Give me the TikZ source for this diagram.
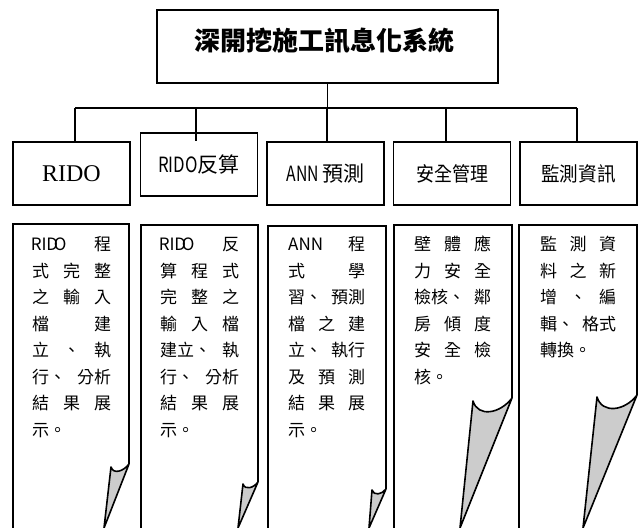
\documentclass[tikz,border=0pt]{standalone}
\usepackage{fontspec}
\usepackage{graphicx}
\setmainfont{Liberation Serif}
\newfontfamily\cjk{Noto Sans CJK TC}
\newcommand\hw[1]{\makebox[8pt]{#1}}
\begin{document}
\begin{tikzpicture}[x=1pt,y=-1pt,
  box/.style={draw, line width=1.5pt, minimum width=117pt, minimum height=63pt, inner sep=0pt},
  conn/.style={line width=1.6pt},
  body/.style={line width=1.8pt, line join=miter},
  tailfill/.style={fill=black!20, draw, line width=1.6pt, line join=round},
  cl/.style={anchor=base west, inner sep=0pt, font=\cjk\fontsize{17pt}{17pt}\selectfont},
  lab/.style={font=\cjk\fontsize{20pt}{20pt}\selectfont}]
\useasboundingbox (0,0) rectangle (642,527);
\clip (0,0) rectangle (642,527);
\fill[white] (0,0) rectangle (642,527);

% title
\node[draw, line width=1.5pt, minimum width=341pt, minimum height=73pt, inner sep=0pt] (top) at (327.5,46.5) {};
\node[font=\cjk\bfseries\fontsize{26pt}{26pt}\selectfont, inner sep=0pt] (toptext) at (324,41) {深開挖施工訊息化系統};

% second row boxes
\node[box, font=\fontsize{24pt}{24pt}\selectfont] (b1) at (71.5,173.5) {RIDO};
\node[box, lab] (b2) at (199,164.5) {\fontsize{21pt}{21pt}\selectfont\scalebox{0.8}[1]{RIDO}反算};
\node[box, lab] (b3) at (325.5,173.5) {\fontsize{21pt}{21pt}\selectfont\scalebox{0.75}[1]{ANN}\,預測};
\node[box, lab] (b4) at (452,173.5) {\scalebox{0.9}[1]{安全管理}};
\node[box, lab] (b5) at (578.5,173.5) {\scalebox{0.93}[1]{監測資訊}};

% connectors
\coordinate (j1) at (75,108);
\coordinate (j2) at (196,108);
\coordinate (j3) at (327,108);
\coordinate (j4) at (446,108);
\coordinate (j5) at (577,108);
\draw[conn] (top.south) -- (top.south |- j3);
\draw[conn] (j1) -- (j5);
\draw[conn] (j1) -- (j1 |- b1.north);
\draw[conn] (j2) -- (j2 |- b1.north);
\draw[conn] (j3) -- (j3 |- b3.north);
\draw[conn] (j4) -- (j4 |- b4.north);
\draw[conn] (j5) -- (j5 |- b5.north);

% callouts
\foreach \L/\R/\T/\yR/\xa/\ya/\tip in {13/129/224/464/111/467/104, 141/258/225/482/243/484/238, 268/386/226/489/372/490/369, 394/512/225/398/473/401/460, 519/637/225/395/597/397/583}{
  \filldraw[tailfill] (\R,\yR) .. controls ({\R-0.3*(\R-\xa)},{\yR+0.4*(\R-\xa)}) and ({\xa+0.13*(\R-\xa)},{\ya+0.43*(\R-\xa)}) .. (\xa,\ya) -- (\tip,528) -- cycle;
  \draw[body] (\L,535) -- (\L,\T) -- (\R,\T) -- (\R,\yR);
}

% callout texts
\foreach \s [count=\i] in {{\hw{R}\hw{I}\hw{D}\hw{O}\hfill 程},{式\hfill 完\hfill 整},{之\hfill 輸\hfill 入},{檔\hfill 建},{立\hfill 、\hfill 執},{行、\hfill 分析},{結\hfill 果\hfill 展},{示。\hfill}}
  \node[cl] (ca\i) at (32,{250.5+26.5*(\i-1)}) {\makebox[79pt][s]{\s}};
\foreach \s [count=\i] in {{\hw{R}\hw{I}\hw{D}\hw{O}\hfill 反},{算\hfill 程\hfill 式},{完\hfill 整\hfill 之},{輸\hfill 入\hfill 檔},{建立、\hfill 執},{行、\hfill 分析},{結\hfill 果\hfill 展},{示。\hfill}}
  \node[cl] (cb\i) at (160,{250.5+26.5*(\i-1)}) {\makebox[79pt][s]{\s}};
\foreach \s [count=\i] in {{ANN\hfill 程},{式\hfill 學},{習、\hfill 預測},{檔\hfill 之\hfill 建},{立、\hfill 執行},{及\hfill 預\hfill 測},{結\hfill 果\hfill 展},{示。\hfill}}
  \node[cl] (cc\i) at (288,{250.5+26.5*(\i-1)}) {\makebox[77pt][s]{\s}};
\foreach \s [count=\i] in {{壁\hfill 體\hfill 應},{力\hfill 安\hfill 全},{檢核、\hfill 鄰},{房\hfill 傾\hfill 度},{安\hfill 全\hfill 檢},{核。\hfill}}
  \node[cl] (cd\i) at (414,{250.5+26.5*(\i-1)}) {\makebox[77pt][s]{\s}};
\foreach \s [count=\i] in {{監\hfill 測\hfill 資},{料\hfill 之\hfill 新},{增\hfill 、\hfill 編},{輯、\hfill 格式},{轉換。\hfill}}
  \node[cl] (ce\i) at (540,{250.5+26.5*(\i-1)}) {\makebox[76pt][s]{\s}};
\end{tikzpicture}
\end{document}
